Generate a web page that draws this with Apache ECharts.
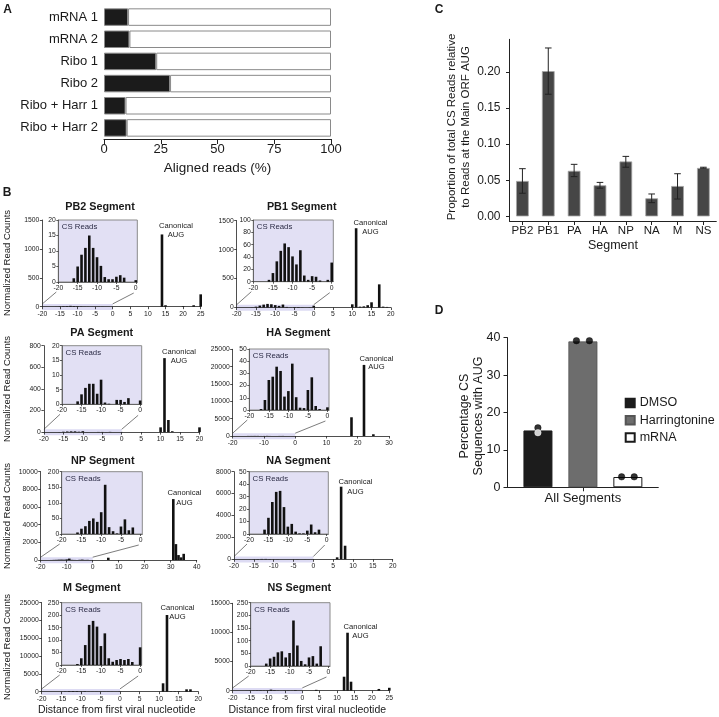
<!DOCTYPE html>
<html><head><meta charset="utf-8">
<script src="https://cdn.jsdelivr.net/npm/echarts@6/dist/echarts.min.js"></script>
<style>html,body{margin:0;padding:0;background:#fff}#c{width:719px;height:717px}</style>
</head><body><div id="c"></div>
<script>
// ---------------- Panel A data ----------------
const aCategories = ['mRNA 1', 'mRNA 2', 'Ribo 1', 'Ribo 2', 'Ribo + Harr 1', 'Ribo + Harr 2'];
const aAligned = [10.6, 11.2, 23.0, 29.1, 9.5, 10.0];
const aTicks = [0, 25, 50, 75, 100];

// ---------------- Panel C data ----------------
const cSegments = ['PB2', 'PB1', 'PA', 'HA', 'NP', 'NA', 'M', 'NS'];
const cMean = [0.049, 0.201, 0.063, 0.043, 0.076, 0.025, 0.042, 0.067];
const cLow  = [0.032, 0.169, 0.055, 0.039, 0.068, 0.019, 0.024, 0.0665];
const cHigh = [0.066, 0.233, 0.072, 0.047, 0.083, 0.031, 0.059, 0.068];
const cTicks = [0, 0.05, 0.10, 0.15, 0.20];

// ---------------- Panel D data ----------------
const dCategories = ['All Segments'];
const dSeriesNames = ['DMSO', 'Harringtonine', 'mRNA'];
const dMeans = [15.2, 39.0, 2.75];
const dDMSOReps = [15.9, 14.6];
const dHarrReps = [39.2, 39.2];
const dMRNAReps = [2.8, 2.8];
const dTicks = [0, 10, 20, 30, 40];

// ---------------- Panel B data ----------------
const insetXTicks = [-20, -15, -10, -5, 0];

const pb2InsetX = [-16, -15, -14, -13, -12, -11, -10, -9, -8, -7, -6, -5, -4, -3, 0];
const pb2InsetY = [1.2, 5, 8.8, 11, 15, 11, 8, 5.2, 1.6, 0.9, 0.9, 1.7, 2.2, 1.4, 0.6];
const pb2MainX = [14, 15, 20, 23, 25];
const pb2MainY = [1250, 25, 10, 25, 214];
const pb2XTicks = [-20, -15, -10, -5, 0, 5, 10, 15, 20, 25];
const pb2YTicks = [0, 500, 1000, 1500];
const pb2InsetYTicks = [0, 5, 10, 15, 20];

const pb1InsetX = [-16, -15, -14, -13, -12, -11, -10, -9, -8, -7, -6, -5, -4, -3, -1, 0];
const pb1InsetY = [3, 14, 33, 50, 62, 56, 41, 28, 51, 10, 3, 9, 8, 2, 3, 31];
const pb1MainX = [10, 11, 12, 13, 14, 15, 17, 18, 19];
const pb1MainY = [55, 1370, 15, 20, 40, 90, 400, 15, 10];
const pb1XTicks = [-20, -15, -10, -5, 0, 5, 10, 15, 20];
const pb1YTicks = [0, 500, 1000, 1500];
const pb1InsetYTicks = [0, 20, 40, 60, 80, 100];

const paInsetX = [-16, -15, -14, -13, -12, -11, -10, -9, -8, -6, -5, -4, -3, 0];
const paInsetY = [1, 3.4, 5.6, 7, 7, 3.6, 8.4, 0.6, 0.2, 1.5, 1.5, 0.8, 2.1, 1.3];
const paMainX = [10, 11, 12, 13, 20];
const paMainY = [44, 685, 112, 8, 44];
const paXTicks = [-20, -15, -10, -5, 0, 5, 10, 15, 20];
const paYTicks = [0, 200, 400, 600, 800];
const paInsetYTicks = [0, 5, 10, 15, 20];

const haInsetX = [-17, -16, -15, -14, -13, -12, -11, -10, -9, -8, -7, -6, -5, -4, -3, -2, 0];
const haInsetY = [0.8, 8.2, 24.6, 27.3, 35.5, 32, 11, 15.5, 38, 10.5, 1.9, 1.6, 16.4, 26.8, 3.3, 0.8, 2.2];
const haMainX = [18, 22, 25];
const haMainY = [5400, 20500, 500];
const haXTicks = [-20, -10, 0, 10, 20, 30];
const haYTicks = [0, 5000, 10000, 15000, 20000, 25000];
const haInsetYTicks = [0, 10, 20, 30, 40, 50];

const npInsetX = [-16, -15, -14, -13, -12, -11, -10, -9, -8, -7, -6, -5, -4, -3, -2];
const npInsetY = [5, 17, 25, 42, 50, 39, 70, 158, 22, 9, 2, 24, 47, 12, 21];
const npMainX = [6, 31, 32, 33, 34, 35];
const npMainY = [260, 6900, 1800, 560, 300, 700];
const npXTicks = [-20, -10, 0, 10, 20, 30, 40];
const npYTicks = [0, 2000, 4000, 6000, 8000, 10000];
const npInsetYTicks = [0, 50, 100, 150, 200];

const naInsetX = [-16, -15, -14, -13, -12, -11, -10, -9, -8, -7, -6, -5, -4, -3, -2];
const naInsetY = [3.5, 13, 25.7, 33.8, 34.6, 21.6, 5.9, 8.1, 1.9, 0.5, 0.5, 2.7, 7.6, 1.4, 3.5];
const naMainX = [6, 7, 8];
const naMainY = [180, 6630, 1240];
const naXTicks = [-20, -15, -10, -5, 0, 5, 10, 15, 20];
const naYTicks = [0, 2000, 4000, 6000, 8000];
const naInsetYTicks = [0, 10, 20, 30, 40, 50];

const mInsetX = [-16, -15, -14, -13, -12, -11, -10, -9, -8, -7, -6, -5, -4, -3, -2, 0];
const mInsetY = [4, 27, 80, 161, 177, 154, 76, 127, 27, 13, 20, 24, 20, 24, 12, 71];
const mMainX = [11, 12, 13, 14, 15, 17, 18];
const mMainY = [2360, 21540, 120, 120, 120, 670, 670];
const mXTicks = [-20, -15, -10, -5, 0, 5, 10, 15, 20];
const mYTicks = [0, 5000, 10000, 15000, 20000, 25000];
const mInsetYTicks = [0, 50, 100, 150, 200, 250];

const nsInsetX = [-16, -15, -14, -13, -12, -11, -10, -9, -8, -7, -6, -5, -4, -3, -2];
const nsInsetY = [9.5, 29.7, 36.5, 54, 58, 33.8, 51.4, 179.7, 81, 20, 6.8, 33.8, 39, 9.5, 78];
const nsMainX = [4, 12, 13, 14, 22, 25];
const nsMainY = [150, 2400, 9950, 1545, 300, 500];
const nsXTicks = [-20, -15, -10, -5, 0, 5, 10, 15, 20, 25];
const nsYTicks = [0, 5000, 10000, 15000];
const nsInsetYTicks = [0, 50, 100, 150, 200, 250];

const segments = [
  {title: 'PB2 Segment', ix: pb2InsetX, iy: pb2InsetY, mx: pb2MainX, my: pb2MainY, xt: pb2XTicks, yt: pb2YTicks, iyt: pb2InsetYTicks},
  {title: 'PB1 Segment', ix: pb1InsetX, iy: pb1InsetY, mx: pb1MainX, my: pb1MainY, xt: pb1XTicks, yt: pb1YTicks, iyt: pb1InsetYTicks},
  {title: 'PA Segment', ix: paInsetX, iy: paInsetY, mx: paMainX, my: paMainY, xt: paXTicks, yt: paYTicks, iyt: paInsetYTicks},
  {title: 'HA Segment', ix: haInsetX, iy: haInsetY, mx: haMainX, my: haMainY, xt: haXTicks, yt: haYTicks, iyt: haInsetYTicks},
  {title: 'NP Segment', ix: npInsetX, iy: npInsetY, mx: npMainX, my: npMainY, xt: npXTicks, yt: npYTicks, iyt: npInsetYTicks},
  {title: 'NA Segment', ix: naInsetX, iy: naInsetY, mx: naMainX, my: naMainY, xt: naXTicks, yt: naYTicks, iyt: naInsetYTicks},
  {title: 'M Segment', ix: mInsetX, iy: mInsetY, mx: mMainX, my: mMainY, xt: mXTicks, yt: mYTicks, iyt: mInsetYTicks},
  {title: 'NS Segment', ix: nsInsetX, iy: nsInsetY, mx: nsMainX, my: nsMainY, xt: nsXTicks, yt: nsYTicks, iyt: nsInsetYTicks}
];

// ---------------- Layout (pixels) ----------------
const B_LAYOUT = [
  {main: [42.3, 200.7, 220, 306.7], inset: [58.3, 137.3, 220, 282], title: [100, 206.7], canon: [176, 226, 235]},
  {main: [236.7, 390.8, 220.7, 307.5], inset: [253.3, 333.3, 220, 281.7], title: [301.7, 206.7], canon: [370.5, 222.7, 231.7]},
  {main: [43.9, 199.5, 345.7, 432.1], inset: [62, 141.7, 345.7, 404.3], title: [101.7, 333.3], canon: [179, 351.7, 361]},
  {main: [232.7, 389, 349.3, 436], inset: [249.3, 329, 349, 410], title: [298.3, 333.3], canon: [376.4, 359, 367.3]},
  {main: [40.7, 196.7, 471.7, 560], inset: [61.7, 142.3, 471.7, 534], title: [102.7, 460.7], canon: [184.5, 493.3, 503.3]},
  {main: [234, 392.7, 471.7, 559.3], inset: [249, 328.3, 471.7, 534], title: [298.3, 460.7], canon: [355.5, 482.3, 491.7]},
  {main: [41.7, 198.3, 602.7, 691.7], inset: [61.7, 141.7, 602.7, 665], title: [91.7, 588.3], canon: [177.5, 607.7, 616.7]},
  {main: [232.7, 389.3, 603.3, 690.7], inset: [250.7, 330, 602.7, 666], title: [299.3, 588.3], canon: [360.5, 626.7, 636]}
];

const FONT = '"Liberation Sans", Arial, Helvetica, sans-serif';
const TXT = '#1a1a1a';
const grids = [], xAxis = [], yAxis = [], series = [];
const plain = v => String(v);

function pxGrid(l, r, t, b, extra) {
  grids.push(Object.assign({left: l, top: t, width: r - l, height: b - t, outerBoundsMode: 'none', containLabel: false}, extra || {}));
  return grids.length - 1;
}
function line(color, w) { return {show: true, onZero: false, lineStyle: {color: color, width: w}}; }
function tick(len, color, w, extra) { return Object.assign({show: true, inside: false, length: len, lineStyle: {color: color, width: w}}, extra || {}); }
function lab(fs, margin, extra) { return Object.assign({show: true, color: TXT, fontSize: fs, fontFamily: FONT, margin: margin, formatter: plain}, extra || {}); }

// ---------------- Panel A ----------------
const gA = pxGrid(104, 331, 6, 139);
xAxis.push({gridIndex: gA, type: 'value', min: aTicks[0], max: aTicks[aTicks.length - 1], interval: aTicks[1] - aTicks[0],
  axisLine: line('#222', 1), axisTick: tick(5, '#222', 1), axisLabel: lab(13, 4), splitLine: {show: false},
  name: 'Aligned reads (%)', nameLocation: 'middle', nameGap: 22,
  nameTextStyle: {fontSize: 13.5, fontFamily: FONT, color: TXT}});
yAxis.push({gridIndex: gA, type: 'category', data: aCategories, inverse: true,
  axisLine: {show: false}, axisTick: {show: false}, axisLabel: lab(13, 6, {formatter: null}), splitLine: {show: false}});
const xA = xAxis.length - 1, yA = yAxis.length - 1;
series.push({type: 'bar', xAxisIndex: xA, yAxisIndex: yA, stack: 'A', data: aAligned, barWidth: 17.5,
  itemStyle: {color: '#1b1b1b', borderColor: '#8a8a8a', borderWidth: 1}, silent: true, animation: false});
series.push({type: 'bar', xAxisIndex: xA, yAxisIndex: yA, stack: 'A', data: aAligned.map(v => 100 - v), barWidth: 17.5,
  itemStyle: {color: '#ffffff', borderColor: '#8a8a8a', borderWidth: 1}, silent: true, animation: false});

// ---------------- Panel C ----------------
const gC = pxGrid(509.5, 716.3, 39.3, 221);
xAxis.push({gridIndex: gC, type: 'category', data: cSegments,
  axisLine: line('#222', 1), axisTick: tick(4, '#222', 1, {alignWithLabel: true, interval: 0}),
  axisLabel: lab(11.5, 4, {interval: 0, formatter: null}),
  name: 'Segment', nameLocation: 'middle', nameGap: 18, nameTextStyle: {fontSize: 12.5, fontFamily: FONT, color: TXT}});
yAxis.push({gridIndex: gC, type: 'value', min: -0.0064, max: 0.245,
  axisLine: line('#222', 1), axisTick: tick(3.5, '#222', 1, {customValues: cTicks}),
  axisLabel: lab(12, 9, {customValues: cTicks, formatter: v => v.toFixed(2)}), splitLine: {show: false}});
const xC = xAxis.length - 1, yC = yAxis.length - 1;
series.push({type: 'bar', xAxisIndex: xC, yAxisIndex: yC, data: cMean, barWidth: 12.7,
  itemStyle: {color: '#464646', borderColor: '#a5a5a5', borderWidth: 0.8}, animation: false});
series.push({type: 'custom', xAxisIndex: xC, yAxisIndex: yC, z: 5, animation: false,
  data: cSegments.map((s, i) => [i, cLow[i], cHigh[i]]), encode: {x: 0, y: [1, 2]},
  renderItem: function (params, api) {
    const p1 = api.coord([api.value(0), api.value(1)]);
    const p2 = api.coord([api.value(0), api.value(2)]);
    const x = p1[0], w = 3.3;
    const st = {stroke: '#222', lineWidth: 1};
    return {type: 'group', children: [
      {type: 'line', shape: {x1: x, y1: p1[1], x2: x, y2: p2[1]}, style: st},
      {type: 'line', shape: {x1: x - w, y1: p1[1], x2: x + w, y2: p1[1]}, style: st},
      {type: 'line', shape: {x1: x - w, y1: p2[1], x2: x + w, y2: p2[1]}, style: st}
    ]};
  }});

// ---------------- Panel D ----------------
const gD = pxGrid(507.5, 658.3, 337.7, 487.3);
xAxis.push({gridIndex: gD, type: 'category', data: dCategories,
  axisLine: line('#222', 1), axisTick: tick(4, '#222', 1, {alignWithLabel: true}), axisLabel: lab(13, 5, {formatter: null})});
yAxis.push({gridIndex: gD, type: 'value', min: dTicks[0], max: dTicks[dTicks.length - 1], interval: dTicks[1] - dTicks[0],
  axisLine: line('#222', 1), axisTick: tick(4, '#222', 1), axisLabel: lab(12.5, 7), splitLine: {show: false}});
const xD = xAxis.length - 1, yD = yAxis.length - 1;
const dStyles = [
  {color: '#1c1c1c', borderColor: '#1c1c1c', borderWidth: 1},
  {color: '#6d6d6d', borderColor: '#555', borderWidth: 0.8},
  {color: '#ffffff', borderColor: '#1a1a1a', borderWidth: 1}
];
dSeriesNames.forEach((n, i) => {
  series.push({type: 'bar', name: n, xAxisIndex: xD, yAxisIndex: yD, data: [dMeans[i]], barWidth: 29, barGap: '55%',
    itemStyle: dStyles[i], animation: false});
});
function dots(vals, offs, fill) {
  return vals.map((v, k) => ({value: [0, v], symbolOffset: [offs[k], 0], itemStyle: {color: fill[k], borderColor: fill[k] === '#ffffff' ? '#ffffff' : '#000', borderWidth: 0.5}}));
}
series.push({type: 'scatter', xAxisIndex: xD, yAxisIndex: yD, symbolSize: 6.5, z: 6, animation: false,
  data: [].concat(
    dots(dDMSOReps, [-45, -45], ['#000000', '#ffffff']),
    dots(dHarrReps, [-6.5, 6.5], ['#000000', '#000000']),
    dots(dMRNAReps, [38.7, 51.3], ['#000000', '#000000']))});

// ---------------- Panel B ----------------
const mainGridIdx = [], insetGridIdx = [];
segments.forEach((s, i) => {
  const L = B_LAYOUT[i];
  const gm = pxGrid(L.main[0], L.main[1], L.main[2], L.main[3]);
  mainGridIdx.push(gm);
  xAxis.push({gridIndex: gm, type: 'value', min: s.xt[0], max: s.xt[s.xt.length - 1], interval: s.xt[1] - s.xt[0],
    axisLine: line('#222', 0.8), axisTick: tick(2.5, '#222', 0.8), axisLabel: lab(6.8, 3.5), splitLine: {show: false}});
  yAxis.push({gridIndex: gm, type: 'value', min: s.yt[0], max: s.yt[s.yt.length - 1], interval: s.yt[1] - s.yt[0],
    axisLine: line('#222', 0.8), axisTick: tick(2.5, '#222', 0.8), axisLabel: lab(6.8, 3), splitLine: {show: false}});
  const mainData = s.ix.map((x, k) => [x, s.iy[k]]).concat(s.mx.map((x, k) => [x, s.my[k]]));
  series.push({type: 'bar', xAxisIndex: xAxis.length - 1, yAxisIndex: yAxis.length - 1, data: mainData,
    barWidth: 2.6, itemStyle: {color: '#111'}, animation: false, silent: true});
  const gi = pxGrid(L.inset[0], L.inset[1], L.inset[2], L.inset[3],
    {show: true, backgroundColor: '#e2e0f4', borderColor: '#8a8a8a', borderWidth: 1});
  insetGridIdx.push(gi);
  xAxis.push({gridIndex: gi, type: 'value', min: -20, max: 0.4,
    axisLine: line('#555', 0.8), axisTick: tick(2, '#333', 0.8, {customValues: insetXTicks}),
    axisLabel: lab(6.8, 2.5, {customValues: insetXTicks}), splitLine: {show: false}});
  yAxis.push({gridIndex: gi, type: 'value', min: s.iyt[0], max: s.iyt[s.iyt.length - 1], interval: s.iyt[1] - s.iyt[0],
    axisLine: line('#555', 0.8), axisTick: tick(2, '#333', 0.8), axisLabel: lab(6.8, 2.5), splitLine: {show: false}});
  series.push({type: 'bar', xAxisIndex: xAxis.length - 1, yAxisIndex: yAxis.length - 1,
    data: s.ix.map((x, k) => [x, s.iy[k]]), barWidth: 2.6, itemStyle: {color: '#111'}, animation: false, silent: true});
});

const option = {
  animation: false,
  backgroundColor: '#ffffff',
  textStyle: {fontFamily: FONT},
  grid: grids, xAxis: xAxis, yAxis: yAxis, series: series,
  legend: {show: true, orient: 'vertical', left: 624.7, top: 396.5, itemWidth: 9, itemHeight: 8.5, itemGap: 4.2,
    icon: 'rect', data: dSeriesNames, selectedMode: false,
    textStyle: {fontSize: 12.5, fontFamily: FONT, color: TXT, lineHeight: 8.5}, padding: 0}
};

const chart = echarts.init(document.getElementById('c'), null, {renderer: 'canvas'});
chart.setOption(option);

// ---------------- Graphics (text, decorations) ----------------
function txt(x, y, t, fs, extra) {
  return Object.assign({type: 'text', x: x, y: y, silent: true,
    style: Object.assign({text: t, fontSize: fs, fontFamily: FONT, fill: TXT, align: 'center', verticalAlign: 'middle'}, (extra && extra.style) || {})},
    extra ? {rotation: extra.rotation || 0} : {});
}
const els = [];
els.push(txt(7.5, 9.5, 'A', 12, {style: {fontWeight: 'bold'}}));
els.push(txt(7, 192.5, 'B', 12, {style: {fontWeight: 'bold'}}));
els.push(txt(439, 9.5, 'C', 12, {style: {fontWeight: 'bold'}}));
els.push(txt(439, 311, 'D', 12, {style: {fontWeight: 'bold'}}));
els.push(txt(458.5, 127, 'Proportion of total CS Reads relative\nto Reads at the Main ORF AUG', 11.5,
  {rotation: Math.PI / 2, style: {lineHeight: 14}}));
els.push(txt(472, 416, 'Percentage CS\nSequences with AUG', 12.5, {rotation: Math.PI / 2, style: {lineHeight: 14}}));
[263, 389, 516, 647].forEach(yc => els.push(txt(7, yc, 'Normalized Read Counts', 9.5, {rotation: Math.PI / 2})));
els.push(txt(116.7, 710.5, 'Distance from first viral nucleotide', 10.5));
els.push(txt(307.3, 710.5, 'Distance from first viral nucleotide', 10.5));

segments.forEach((s, i) => {
  const L = B_LAYOUT[i];
  els.push(txt(L.title[0], L.title[1], s.title, 10.8, {style: {fontWeight: 'bold'}}));
  els.push(txt(L.canon[0], L.canon[1], 'Canonical', 7.6));
  els.push(txt(L.canon[0], L.canon[2], 'AUG', 7.6));
  els.push(txt(L.inset[0] + 3.5, L.inset[2] + 7, 'CS Reads', 7.8, {style: {align: 'left', fill: '#2a2a44'}}));
  const gm = mainGridIdx[i], gi = insetGridIdx[i];
  const m0 = chart.convertToPixel({gridIndex: gm}, [-20, 0]);
  const m1 = chart.convertToPixel({gridIndex: gm}, [0, 0]);
  const i0 = chart.convertToPixel({gridIndex: gi}, [-20, 0]);
  const i1 = chart.convertToPixel({gridIndex: gi}, [0, 0]);
  els.push({type: 'rect', z: -1, silent: true, shape: {x: m0[0], y: m0[1] - 2.8, width: m1[0] - m0[0], height: 6},
    style: {fill: '#dddbf3'}});
  els.push({type: 'line', silent: true, shape: {x1: i0[0] - 2, y1: i0[1] + 10, x2: m0[0], y2: m0[1] - 2.8},
    style: {stroke: '#444', lineWidth: 0.7}});
  els.push({type: 'line', silent: true, shape: {x1: i1[0] - 2, y1: i1[1] + 11, x2: m1[0], y2: m1[1] - 2.8},
    style: {stroke: '#444', lineWidth: 0.7}});
});
chart.setOption({graphic: {elements: els}});
</script></body></html>
